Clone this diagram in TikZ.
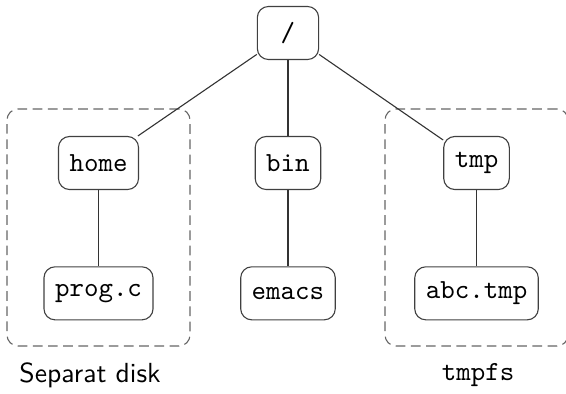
\documentclass[tikz,border=0pt]{standalone}
\usepackage{tikz}
\usetikzlibrary{positioning}

\begin{document}
	\begin{tikzpicture}[
		dir/.style={draw=black!75, rounded corners, font=\ttfamily, minimum height=0.675cm, minimum width=0.78cm, inner xsep=4pt},
		disk/.style={draw=black!60, dash pattern=on 3.5pt off 2pt, rounded corners, minimum width=2.33cm, minimum height=3.017cm},
		link/.style={draw=black!80}
	]
		\useasboundingbox (0,0) rectangle (7.205,5.003);
		\node[disk] (sepbox) at (1.254,2.107) {};
		\node[disk] (tmpbox) at (6.066,2.107) {};
		\node[dir] (root) at (3.666,4.583) {/};
		\node[dir] (home) at (1.254,2.928) {home};
		\node[dir] (bin) at (3.666,2.928) {bin};
		\node[dir] (tmp) at (6.066,2.928) {tmp};
		\node[dir] (prog) at (1.254,1.269) {prog.c};
		\node[dir] (emacs) at (3.666,1.269) {emacs};
		\node[dir] (abc) at (6.066,1.269) {abc.tmp};
		\draw[link] (root) -- (home);
		\draw[link] (root) -- (bin);
		\draw[link] (root) -- (tmp);
		\draw[link] (home) -- (prog);
		\draw[link] (bin) -- (emacs);
		\draw[link] (tmp) -- (abc);
		\node[font=\sffamily] (seplabel) at (1.146,0.229) {Separat disk};
		\node[font=\ttfamily] (tmplabel) at (6.085,0.229) {tmpfs};
	\end{tikzpicture}
\end{document}
